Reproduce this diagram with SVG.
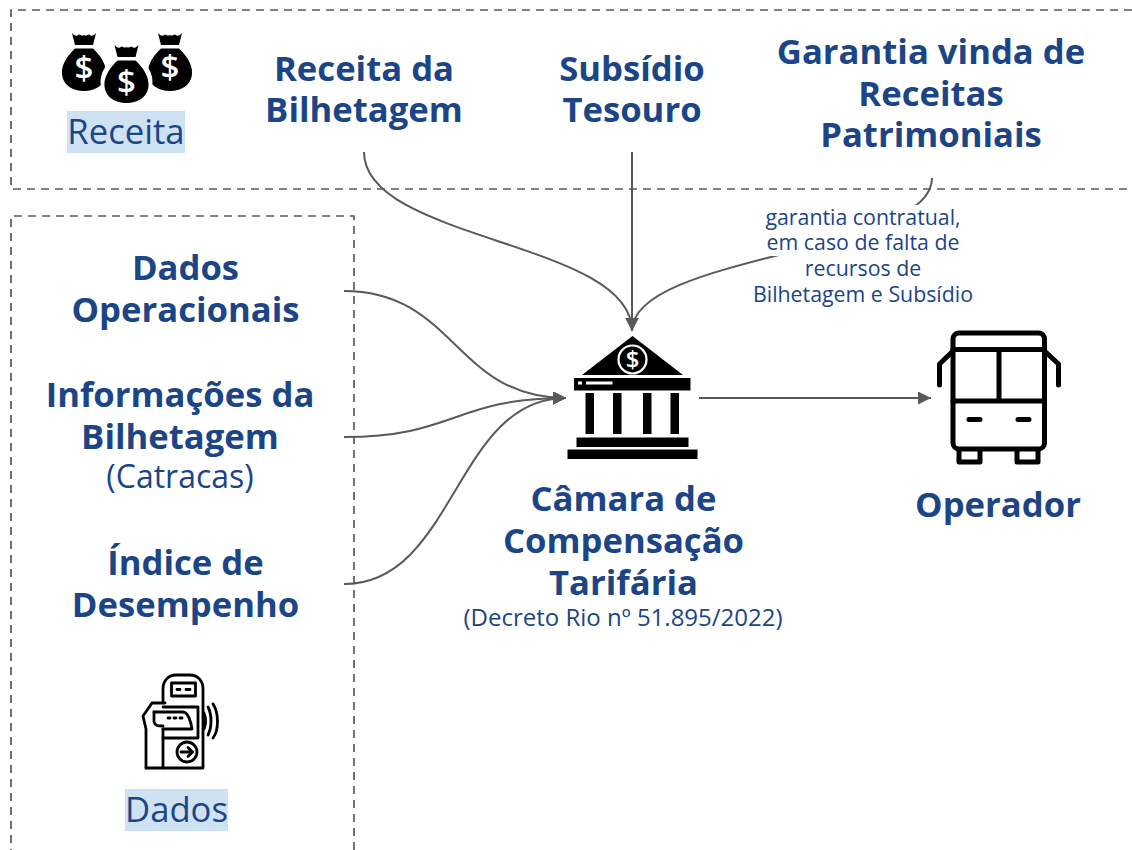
<svg xmlns="http://www.w3.org/2000/svg" width="1132" height="850" viewBox="0 0 1132 850">
<defs>
<style>
text{font-family:"Open Sans","Noto Sans","Liberation Sans",sans-serif;fill:#1c4587;text-anchor:middle}
.h{font-size:34.67px;font-weight:700}
.l{font-size:34.67px}
.m{font-size:32px}
.d{font-size:24px}
.s{font-size:21.33px}
.dash{fill:none;stroke:#595959;stroke-width:1.7;stroke-dasharray:8 6}
.c{fill:none;stroke:#595959;stroke-width:2}
.hl{fill:#cfe2f3}
.ic{fill:none;stroke:#000;stroke-linecap:round;stroke-linejoin:round}
.dl{font-weight:600;fill:#fff;font-size:33px}
</style>
<marker id="a" markerUnits="userSpaceOnUse" markerWidth="14" markerHeight="14" refX="13" refY="6.500" orient="auto"><path d="M0 0L13 6.500L0 13z" fill="#595959"/></marker>
<g id="bag"><path d="M-12 -13 C-10 -11 -8 -9 -6 -11 C-4 -13 -3 -9 0 -11 C3 -9 4 -13 6 -11 C8 -9 10 -11 12 -13 L9 -1 L-9 -1z" fill="#000"/><path d="M-9 2.500 H9 C15 8 23 18 22 28 C21 40 10 45 0 45 C-10 45 -21 40 -22 28 C-23 18 -15 8 -9 2.500z" fill="#000"/></g>
</defs>
<g id="frames">
<path class="dash" d="M1132 10H11V189H1132"/>
<path class="dash" d="M354 850V216H11V850"/>
</g>
<g id="connectors">
<path class="c" d="M364 152C364 241 632 241 632 331" marker-end="url(#a)"/>
<path class="c" d="M632 152V331" marker-end="url(#a)"/>
<path class="c" d="M932 178C932 254 632 254 632 331" marker-end="url(#a)"/>
<path class="c" d="M344 291C455 291 455 398 566 398" marker-end="url(#a)"/>
<path class="c" d="M344 437C455 437 455 398 566 398" marker-end="url(#a)"/>
<path class="c" d="M344 584C455 584 455 398 566 398" marker-end="url(#a)"/>
<path class="c" d="M699 398H931" marker-end="url(#a)"/>
</g>
<g id="receita-icon">
<use href="#bag" x="84" y="46"/>
<use href="#bag" x="170" y="46"/>
<circle cx="126.500" cy="82" r="26" fill="#fff"/>
<use href="#bag" x="126.500" y="58"/>
<text class="dl" x="84" y="80">$</text>
<text class="dl" x="170" y="79">$</text>
<text class="dl" x="126.500" y="94">$</text>
</g>
<g id="receita-label"><rect class="hl" x="67" y="111" width="118" height="42"/><text class="l" x="126" y="144">Receita</text></g>
<g id="receita-bilhetagem"><text class="h" x="364" y="81">Receita da</text><text class="h" x="364" y="122">Bilhetagem</text></g>
<g id="subsidio"><text class="h" x="632" y="81">Subsídio</text><text class="h" x="632" y="122">Tesouro</text></g>
<g id="garantia"><text class="h" x="931" y="64">Garantia vinda de</text><text class="h" x="931" y="106">Receitas</text><text class="h" x="931" y="147">Patrimoniais</text></g>
<g id="garantia-label">
<path fill="#fff" d="M764 205H961V256H923V307H752V282H804V256H765z"/>
<text class="s" x="863" y="225">garantia contratual,</text>
<text class="s" x="863" y="250">em caso de falta de</text>
<text class="s" x="863" y="276">recursos de</text>
<text class="s" x="863" y="302">Bilhetagem e Subsídio</text>
</g>
<g id="dados-operacionais"><text class="h" x="185.500" y="280">Dados</text><text class="h" x="185.500" y="322">Operacionais</text></g>
<g id="informacoes"><text class="h" x="180" y="407">Informações da</text><text class="h" x="180" y="449">Bilhetagem</text><text class="m" x="180" y="488">(Catracas)</text></g>
<g id="indice"><text class="h" x="185.500" y="575">Índice de</text><text class="h" x="185.500" y="617">Desempenho</text></g>
<g id="validador">
<g class="ic" stroke-width="2.800">
<path d="M163 702V689C163 680 169 675 176 675H190C197 675 203 680 203 689V768H146"/>
<rect x="171.500" y="683" width="24" height="13"/>
<path d="M177 689.500H180M186 689.500H190"/>
<path d="M163 707H198V738H163"/>
<path d="M154 712H183C188 712 191 722 192 729H163"/>
<path d="M168 718H170M174 718H176M180 718H182"/>
<path d="M163 729V768M146 768V729L143 716L152 703H165"/>
<path d="M154 712V722C155 726 158 726 163 726"/>
<circle cx="187" cy="752" r="10"/>
<path d="M181 752H192M188 747.500L192.500 752L188 756.500"/>
<path d="M204 713C206 718 206 724 204 729M208 707C212 715 212 727 208 735M213 704C219 713 219 730 213 738"/>
</g>
</g>
<g id="dados-label"><rect class="hl" x="125" y="789" width="103" height="42"/><text class="l" x="176.500" y="822">Dados</text></g>
<g id="camara">
<path d="M632.500 336L683 375H582z" fill="#000"/>
<circle cx="632.500" cy="359.500" r="14" fill="#000" stroke="#fff" stroke-width="2.200"/>
<text x="632.500" y="368" style="fill:#fff;font-size:24px;font-weight:600">$</text>
<rect x="574" y="378" width="116.500" height="12.500" fill="#000"/>
<rect x="578" y="381.500" width="4" height="3" fill="#fff"/>
<rect x="586" y="381.500" width="26.500" height="3" fill="#fff"/>
<rect x="585.500" y="393" width="8.500" height="41" fill="#000"/>
<rect x="613" y="393" width="8.500" height="41" fill="#000"/>
<rect x="643" y="393" width="8.500" height="41" fill="#000"/>
<rect x="670.500" y="393" width="8.500" height="41" fill="#000"/>
<rect x="576.500" y="437.500" width="112" height="9.500" fill="#000"/>
<rect x="567.500" y="449.500" width="130" height="9.500" fill="#000"/>
<text class="h" x="623.500" y="511">Câmara de</text><text class="h" x="623.500" y="553">Compensação</text><text class="h" x="623.500" y="595">Tarifária</text>
<text class="d" x="623" y="626">(Decreto Rio nº 51.895/2022)</text>
</g>
<g id="operador">
<g class="ic" stroke-width="5">
<rect x="953" y="333" width="91.500" height="116" rx="6"/>
<path d="M953 349.500H1044.500M999 349.500V401M953 401H1044.500"/>
<path d="M969 419.500H980M1018 419.500H1029"/>
<path d="M953 351L939.500 364V385M1044.500 351L1058.500 364V385"/>
<path d="M959 450V462H980V450M1017 450V462H1038V450"/>
</g>
<text class="h" x="998" y="517">Operador</text>
</g>
</svg>
